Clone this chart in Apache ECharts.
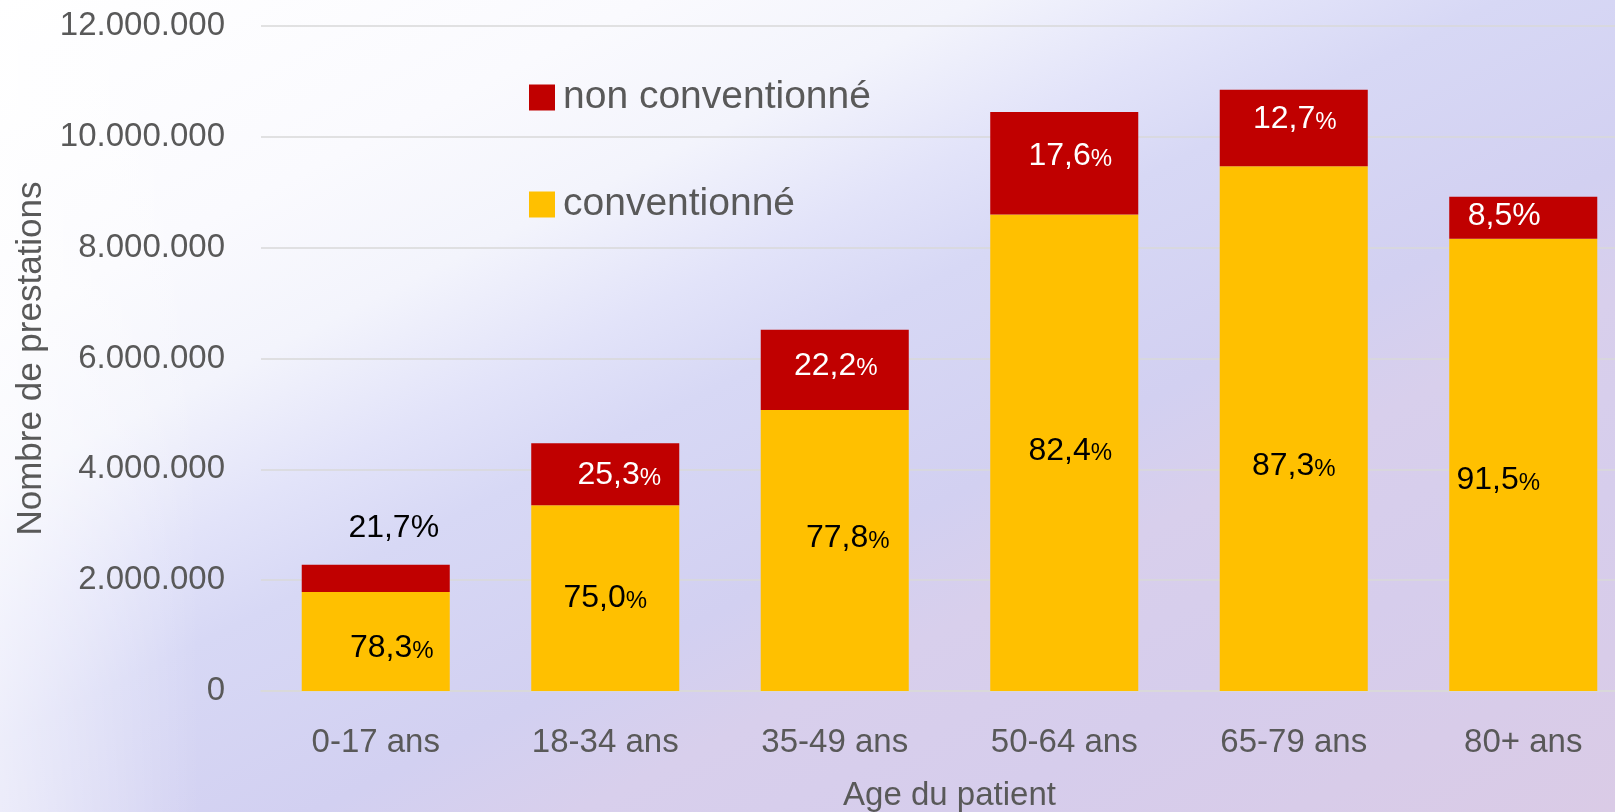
<!DOCTYPE html>
<html>
<head>
<meta charset="utf-8">
<title>Nombre de prestations par âge</title>
<script src="https://cdn.jsdelivr.net/npm/echarts@6/dist/echarts.min.js"></script>
<style>
  html, body { margin: 0; padding: 0; }
  #chart { width: 1615px; height: 812px; }
</style>
</head>
<body>
<div id="chart"></div>
<script>
const categories = ['0-17 ans', '18-34 ans', '35-49 ans', '50-64 ans', '65-79 ans', '80+ ans']

// valeurs (nombre de prestations)
const conventionne = [1785000, 3350000, 5070000, 8600000, 9470000, 8160000]
const nonConventionne = [495000, 1120000, 1450000, 1850000, 1380000, 760000]

// textes des pourcentages tels qu'affichés
const conventionneLabels = ['78,3', '75,0', '77,8', '82,4', '87,3', '91,5']
const nonConventionneLabels = ['21,7', '25,3', '22,2', '17,6', '12,7', '8,5']

const yTicks = [0, 2000000, 4000000, 6000000, 8000000, 10000000, 12000000]

// petits décalages des étiquettes (placées à la main dans l'original)
const convNudge = [[16, 7], [0, 0], [13, -12], [6, -2], [0, 38], [-25, 15]]
const nonNudge = [[18, -50], [14, 1], [1, -4], [6, -7], [1, -9], [-19, -2]]
const nonBigPct = [true, false, false, false, false, true]

const FONT = "'Liberation Sans', Arial, sans-serif"
const GREY = '#595959'

const formatThousands = v => String(v).replace(/\B(?=(\d{3})+(?!\d))/g, '.')

const richPct = color => ({
  v: { fontSize: 32, color: color, fontFamily: FONT },
  p: { fontSize: 24, color: color, fontFamily: FONT, padding: [6, 0, 0, 0] },
  b: { fontSize: 32, color: color, fontFamily: FONT }
})

const convData = conventionne.map((v, i) => ({
  value: v,
  label: { offset: convNudge[i] }
}))

const nonData = nonConventionne.map((v, i) => ({
  value: v,
  label: {
    offset: nonNudge[i],
    color: i === 0 ? '#000' : '#fff',
    rich: richPct(i === 0 ? '#000' : '#fff')
  }
}))

const chart = echarts.init(document.getElementById('chart'))

// fond en dégradé, bandes inclinées comme dans l'original
const background = {
  type: 'linear', x: 0, y: 0, x2: 639, y2: 1294, global: true,
  colorStops: [
    { offset: 0, color: '#ffffff' },
    { offset: 0.2, color: '#fafafe' },
    { offset: 0.3, color: '#f3f4fc' },
    { offset: 0.39, color: '#e2e3f9' },
    { offset: 0.46, color: '#d7d8f5' },
    { offset: 0.6, color: '#d2d0f1' },
    { offset: 0.68, color: '#d8cfec' },
    { offset: 0.8, color: '#d6cdec' },
    { offset: 1, color: '#dacbe6' }
  ]
}

chart.setOption({
  animation: false,
  backgroundColor: background,
  textStyle: { fontFamily: FONT },
  graphic: [{
    type: 'rect',
    z: -10,
    silent: true,
    shape: { x: 0, y: 0, width: 200, height: 812 },
    style: {
      fill: {
        type: 'linear', x: 0, y: 0, x2: 1, y2: 0,
        colorStops: [
          { offset: 0, color: 'rgba(255,255,255,0.55)' },
          { offset: 1, color: 'rgba(255,255,255,0)' }
        ]
      }
    }
  }],
  legend: {
    orient: 'vertical',
    left: 524,
    top: 73,
    data: ['non conventionné', 'conventionné'],
    icon: 'rect',
    itemWidth: 26,
    itemHeight: 26,
    itemGap: 68,
    textStyle: { fontSize: 39, color: GREY, fontFamily: FONT, padding: [0, 0, 0, 3] }
  },
  grid: {
    left: 261,
    top: 26,
    width: 1377,
    height: 665,
    outerBoundsMode: 'none'
  },
  xAxis: {
    type: 'category',
    data: categories,
    name: 'Age du patient',
    nameLocation: 'middle',
    nameGap: 88,
    nameTextStyle: { fontSize: 33, color: GREY, fontFamily: FONT },
    axisTick: { show: false },
    axisLine: { lineStyle: { color: '#d9d9d9', width: 1.5 } },
    axisLabel: { fontSize: 33, color: GREY, margin: 35, fontFamily: FONT }
  },
  yAxis: {
    type: 'value',
    min: yTicks[0],
    max: yTicks[yTicks.length - 1],
    interval: yTicks[1] - yTicks[0],
    name: 'Nombre de prestations',
    nameLocation: 'middle',
    nameGap: 207,
    nameTextStyle: { fontSize: 35, color: GREY, fontFamily: FONT },
    axisLabel: {
      fontSize: 33,
      color: GREY,
      margin: 36,
      fontFamily: FONT,
      formatter: formatThousands
    },
    splitLine: { lineStyle: { color: '#d9d9d9', width: 1.5 } }
  },
  series: [
    {
      name: 'conventionné',
      type: 'bar',
      stack: 'total',
      barCategoryGap: '35.5%',
      itemStyle: { color: '#ffc000' },
      label: {
        show: true,
        position: 'inside',
        formatter: p => '{v|' + conventionneLabels[p.dataIndex] + '}{p|%}',
        rich: richPct('#000')
      },
      data: convData
    },
    {
      name: 'non conventionné',
      type: 'bar',
      stack: 'total',
      itemStyle: { color: '#c00000' },
      label: {
        show: true,
        position: 'inside',
        formatter: p => nonBigPct[p.dataIndex]
          ? '{b|' + nonConventionneLabels[p.dataIndex] + '%}'
          : '{v|' + nonConventionneLabels[p.dataIndex] + '}{p|%}'
      },
      data: nonData
    }
  ]
})
</script>
</body>
</html>
